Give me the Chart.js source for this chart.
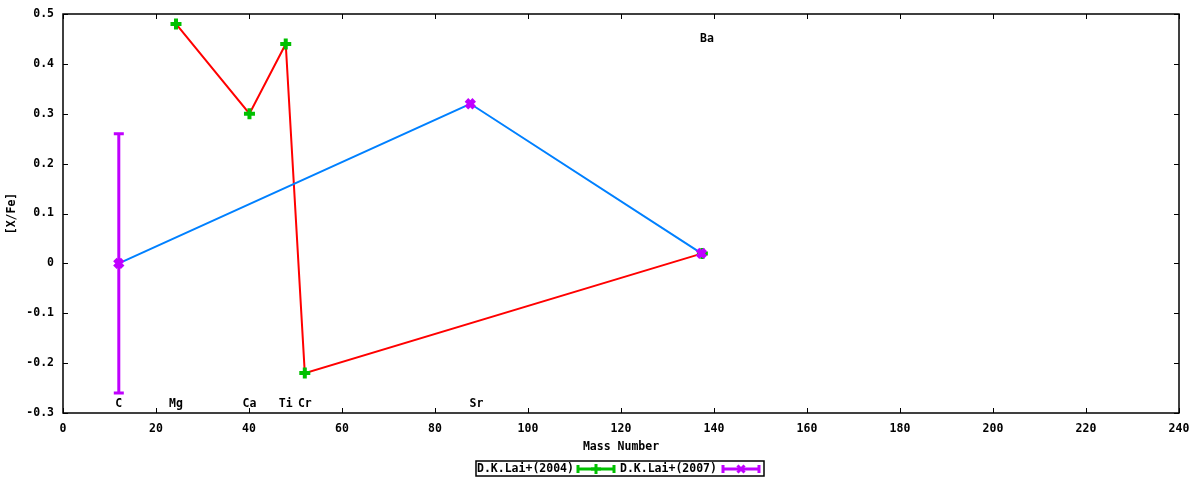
<!DOCTYPE html>
<html>
<head>
<meta charset="utf-8">
<script src="https://cdn.jsdelivr.net/npm/chart.js@4/dist/chart.umd.min.js"></script>
<style>
  body { margin: 0; background: #fff; }
</style>
</head>
<body>
<canvas id="chart" width="1200" height="480"></canvas>
<script>
"use strict";

// D.K.Lai+(2004)  -> Mg, Ca, Ti, Cr, Ba
const mass2004 = [24.3, 40.1, 47.9, 52.0, 137.5];
const xfe2004 = [0.48, 0.30, 0.44, -0.22, 0.02];

// D.K.Lai+(2007)  -> C, Sr, Ba
const mass2007 = [12.0, 87.6, 137.3];
const xfe2007 = [0.00, 0.32, 0.02];
const err2007 = [0.26, 0, 0];

// element labels
const elemNames = ["C", "Mg", "Ca", "Ti", "Cr", "Sr", "Ba"];
const elemMass = [12.0, 24.3, 40.1, 47.9, 52.0, 88.9, 138.5];
const elemY = [-0.28, -0.28, -0.28, -0.28, -0.28, -0.28, 0.452];

const xTicks = [0, 20, 40, 60, 80, 100, 120, 140, 160, 180, 200, 220, 240];
const yTicks = [-0.3, -0.2, -0.1, 0, 0.1, 0.2, 0.3, 0.4, 0.5];

const FONT = "bold 11.5px 'DejaVu Sans Mono', monospace";

function toPoints(xs, ys) {
    return xs.map((x, i) => ({ x: x, y: ys[i] }));
}

// frame, mirrored inward ticks, error bars, labels, axis titles, legend
const gnuplotLook = {
    id: "gnuplotLook",
    beforeDatasetsDraw(chart) {
        const ctx = chart.ctx;
        const xs = chart.scales.x;
        const ys = chart.scales.y;
        // error bars of the 2007 set
        ctx.save();
        ctx.strokeStyle = "#c000ff";
        ctx.lineWidth = 3;
        err2007.forEach((e, i) => {
            if (!e) return;
            const px = xs.getPixelForValue(mass2007[i]);
            const top = ys.getPixelForValue(xfe2007[i] + e);
            const bot = ys.getPixelForValue(xfe2007[i] - e);
            ctx.beginPath();
            ctx.moveTo(px, top); ctx.lineTo(px, bot);
            ctx.moveTo(px - 5, top); ctx.lineTo(px + 5, top);
            ctx.moveTo(px - 5, bot); ctx.lineTo(px + 5, bot);
            ctx.stroke();
        });
        ctx.restore();
    },
    afterDraw(chart) {
        const ctx = chart.ctx;
        const a = chart.chartArea;
        const xs = chart.scales.x;
        const ys = chart.scales.y;
        ctx.save();
        ctx.strokeStyle = "#000";
        ctx.lineWidth = 1.5;
        ctx.strokeRect(a.left, a.top, a.right - a.left, a.bottom - a.top);
        ctx.lineWidth = 1;
        ctx.beginPath();
        xTicks.forEach(v => {
            const px = Math.round(xs.getPixelForValue(v)) + 0.5;
            ctx.moveTo(px, a.bottom); ctx.lineTo(px, a.bottom - 5);
            ctx.moveTo(px, a.top); ctx.lineTo(px, a.top + 5);
        });
        yTicks.forEach(v => {
            const py = Math.round(ys.getPixelForValue(v)) + 0.5;
            ctx.moveTo(a.left, py); ctx.lineTo(a.left + 5, py);
            ctx.moveTo(a.right, py); ctx.lineTo(a.right - 5, py);
        });
        ctx.stroke();

        ctx.fillStyle = "#000";
        ctx.font = FONT;
        ctx.textAlign = "center";
        ctx.textBaseline = "middle";
        elemNames.forEach((n, i) => {
            ctx.fillText(n, xs.getPixelForValue(elemMass[i]), ys.getPixelForValue(elemY[i]) + 1);
        });

        // axis titles
        ctx.fillText("Mass Number", (a.left + a.right) / 2, 447);
        ctx.save();
        ctx.translate(12, (a.top + a.bottom) / 2);
        ctx.rotate(-Math.PI / 2);
        ctx.fillText("[X/Fe]", 0, 0);
        ctx.restore();

        // legend box
        const ly = 469;
        ctx.strokeStyle = "#000";
        ctx.lineWidth = 1.5;
        ctx.strokeRect(476, 461, 288, 15);
        ctx.textAlign = "left";
        const entries = chart.data.datasets.map((d, i) => ({
            label: d.label,
            color: d.pointBorderColor,
            style: d.pointStyle,
            bw: d.pointBorderWidth,
            tx: i === 0 ? 477 : 620,
            sx: i === 0 ? 578 : 723
        }));
        entries.forEach(en => {
            ctx.fillStyle = "#000";
            ctx.fillText(en.label, en.tx, ly);
            ctx.strokeStyle = en.color;
            ctx.lineWidth = 3;
            ctx.beginPath();
            ctx.moveTo(en.sx, ly); ctx.lineTo(en.sx + 36, ly);
            ctx.moveTo(en.sx, ly - 4); ctx.lineTo(en.sx, ly + 4);
            ctx.moveTo(en.sx + 36, ly - 4); ctx.lineTo(en.sx + 36, ly + 4);
            ctx.stroke();
            Chart.helpers.drawPoint(ctx, {
                pointStyle: en.style, radius: 5, rotation: 0,
                borderWidth: en.bw
            }, en.sx + 18, ly);
        });
        ctx.restore();
    }
};

const tickFont = { family: "'DejaVu Sans Mono', monospace", size: 11.5, weight: "bold" };

new Chart(document.getElementById("chart"), {
    type: "scatter",
    data: {
        datasets: [{
            label: "D.K.Lai+(2004)",
            data: toPoints(mass2004, xfe2004),
            order: 1,
            showLine: true,
            borderColor: "#ff0000",
            borderWidth: 2,
            pointStyle: "cross",
            pointRadius: 5.5,
            pointBorderWidth: 4,
            pointBorderColor: "#00c000",
            pointBackgroundColor: "#00c000"
        }, {
            label: "D.K.Lai+(2007)",
            data: toPoints(mass2007, xfe2007),
            order: 0,
            showLine: true,
            borderColor: "#0080ff",
            borderWidth: 2,
            pointStyle: "crossRot",
            pointRadius: 5.5,
            pointBorderWidth: 5,
            pointBorderColor: "#c000ff",
            pointBackgroundColor: "#c000ff"
        }]
    },
    options: {
        responsive: false,
        animation: false,
        layout: { padding: { top: 14, right: 21, left: 0, bottom: 0 } },
        plugins: { legend: { display: false }, tooltip: { enabled: false } },
        scales: {
            x: {
                type: "linear",
                min: 0, max: 240,
                afterBuildTicks: s => { s.ticks = xTicks.map(v => ({ value: v })); },
                afterFit: s => { s.height = 67; s.paddingLeft = 0; s.paddingRight = 0; },
                grid: { display: false, drawTicks: false },
                border: { display: false },
                ticks: {
                    color: "#000",
                    padding: 9,
                    maxRotation: 0,
                    font: tickFont
                }
            },
            y: {
                min: -0.3, max: 0.5,
                afterBuildTicks: s => { s.ticks = yTicks.map(v => ({ value: v })); },
                afterFit: s => { s.width = 63; s.paddingTop = 0; s.paddingBottom = 0; },
                grid: { display: false, drawTicks: false },
                border: { display: false },
                ticks: {
                    color: "#000",
                    padding: 9,
                    callback: v => Math.abs(v) < 1e-9 ? "0" : v.toFixed(1),
                    font: tickFont
                }
            }
        }
    },
    plugins: [gnuplotLook]
});
</script>
</body>
</html>
